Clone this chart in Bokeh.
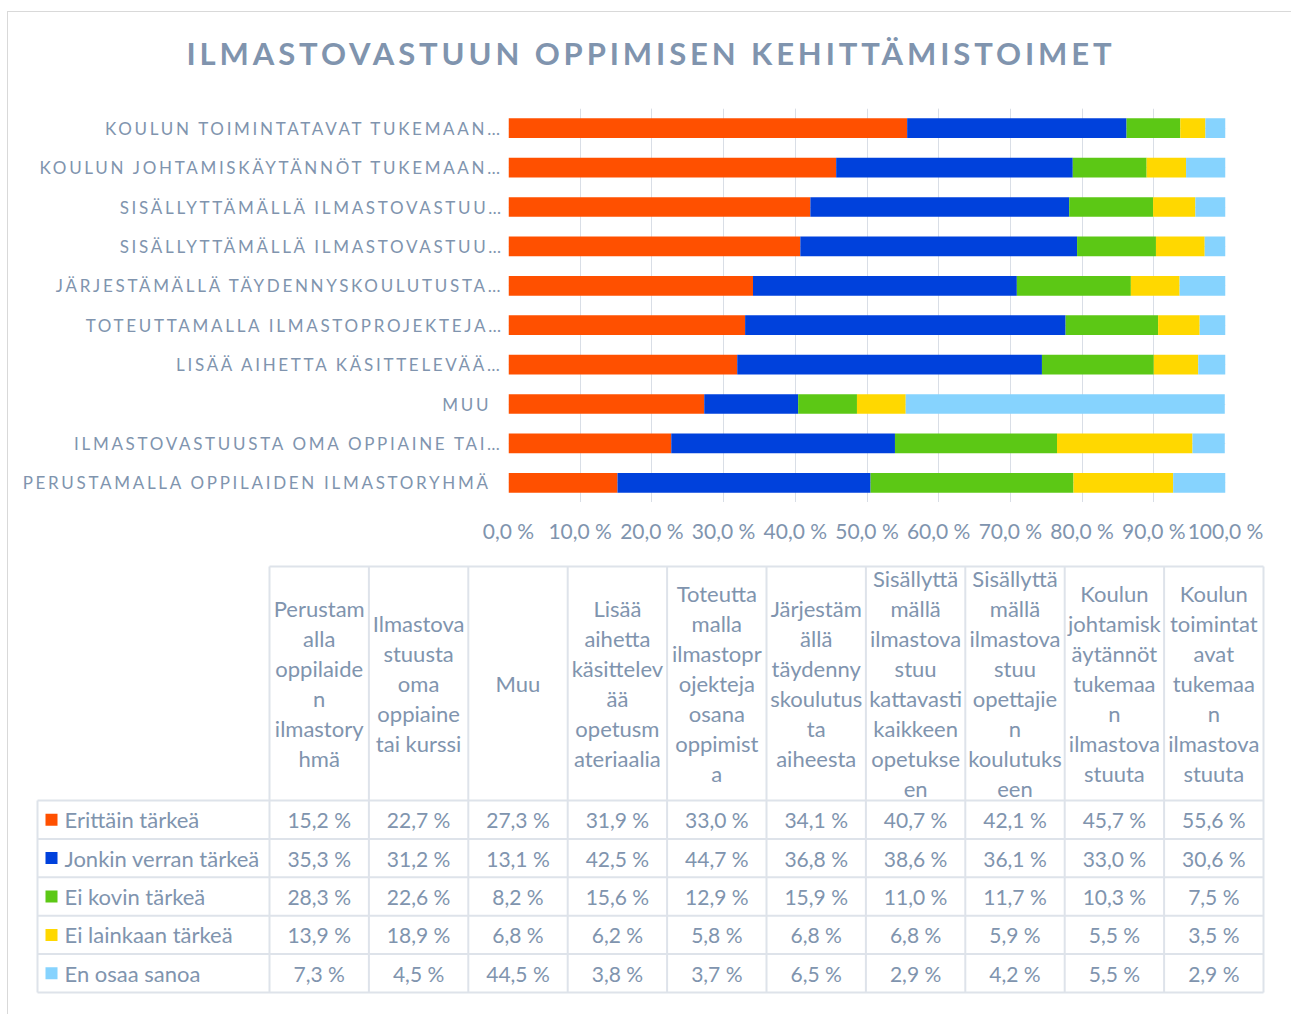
from bokeh.plotting import figure
from bokeh.models import (ColumnDataSource, FactorRange, Range1d, FixedTicker,
                          Grid, LinearAxis)
from bokeh.layouts import column, row
from bokeh.embed import file_html
from bokeh.resources import INLINE
from bokeh.core.properties import value

# ---------------- data ----------------
title_text = "ILMASTOVASTUUN OPPIMISEN KEHITTÄMISTOIMET"

categories = [
    "Perustamalla oppilaiden ilmastoryhmä",
    "Ilmastovastuusta oma oppiaine tai kurssi",
    "Muu",
    "Lisää aihetta käsittelevää opetusmateriaalia",
    "Toteuttamalla ilmastoprojekteja osana oppimista",
    "Järjestämällä täydennyskoulutusta aiheesta",
    "Sisällyttämällä ilmastovastuu kattavasti kaikkeen opetukseen",
    "Sisällyttämällä ilmastovastuu opettajien koulutukseen",
    "Koulun johtamiskäytännöt tukemaan ilmastovastuuta",
    "Koulun toimintatavat tukemaan ilmastovastuuta",
]

axis_labels = [
    "PERUSTAMALLA OPPILAIDEN ILMASTORYHMÄ",
    "ILMASTOVASTUUSTA OMA OPPIAINE TAI…",
    "MUU",
    "LISÄÄ AIHETTA KÄSITTELEVÄÄ…",
    "TOTEUTTAMALLA ILMASTOPROJEKTEJA…",
    "JÄRJESTÄMÄLLÄ TÄYDENNYSKOULUTUSTA…",
    "SISÄLLYTTÄMÄLLÄ ILMASTOVASTUU…",
    "SISÄLLYTTÄMÄLLÄ ILMASTOVASTUU…",
    "KOULUN JOHTAMISKÄYTÄNNÖT TUKEMAAN…",
    "KOULUN TOIMINTATAVAT TUKEMAAN…",
]

table_headers = [
    "Perustam\nalla\noppilaide\nn\nilmastory\nhmä",
    "Ilmastova\nstuusta\noma\noppiaine\ntai kurssi",
    "Muu",
    "Lisää\naihetta\nkäsittelev\nää\nopetusm\nateriaalia",
    "Toteutta\nmalla\nilmastopr\nojekteja\nosana\noppimist\na",
    "Järjestäm\nällä\ntäydenny\nskoulutus\nta\naiheesta",
    "Sisällyttä\nmällä\nilmastova\nstuu\nkattavasti\nkaikkeen\nopetukse\nen",
    "Sisällyttä\nmällä\nilmastova\nstuu\nopettajie\nn\nkoulutuks\neen",
    "Koulun\njohtamisk\näytännöt\ntukemaa\nn\nilmastova\nstuuta",
    "Koulun\ntoimintat\navat\ntukemaa\nn\nilmastova\nstuuta",
]

series_names = ["Erittäin tärkeä", "Jonkin verran tärkeä", "Ei kovin tärkeä",
                "Ei lainkaan tärkeä", "En osaa sanoa"]
series_colors = ["#FF5000", "#0041DC", "#5CC815", "#FFD800", "#86D3FE"]

erittain_tarkea = [15.2, 22.7, 27.3, 31.9, 33.0, 34.1, 40.7, 42.1, 45.7, 55.6]
jonkin_verran_tarkea = [35.3, 31.2, 13.1, 42.5, 44.7, 36.8, 38.6, 36.1, 33.0, 30.6]
ei_kovin_tarkea = [28.3, 22.6, 8.2, 15.6, 12.9, 15.9, 11.0, 11.7, 10.3, 7.5]
ei_lainkaan_tarkea = [13.9, 18.9, 6.8, 6.2, 5.8, 6.8, 6.8, 5.9, 5.5, 3.5]
en_osaa_sanoa = [7.3, 4.5, 44.5, 3.8, 3.7, 6.5, 2.9, 4.2, 5.5, 2.9]

series_values = [erittain_tarkea, jonkin_verran_tarkea, ei_kovin_tarkea,
                 ei_lainkaan_tarkea, en_osaa_sanoa]

x_ticks = [0, 10, 20, 30, 40, 50, 60, 70, 80, 90, 100]
x_tick_labels = ["0,0 %", "10,0 %", "20,0 %", "30,0 %", "40,0 %", "50,0 %",
                 "60,0 %", "70,0 %", "80,0 %", "90,0 %", "100,0 %"]

# ---------------- style / layout ----------------
TEXT = "#8094AE"
FONT = "Lato"
GRID = "#D9DEE6"
TABLE_LINE = "#DEE3EA"
BORDER = "#D9D9D9"
W = 1291
H0 = 108          # title strip
H1 = 394          # bar chart (frame = whole height)
H2 = 512          # axis labels + data table
AXIS_BAND = 54
FRAME_L = 508
FRAME_R = 1225
X_MIN, X_MAX = 0, 100
LABEL_LS = 2.7     # letter spacing of category labels (px)
LABEL_END = 488    # right end of category label text
ELLIPSIS_END = 501 # right end of a trailing ellipsis

# ---------------- title ----------------
tf = figure(width=W, height=H0, output_backend="svg", toolbar_location=None,
            min_border=0, min_border_top=90, x_axis_location=None, y_axis_location=None,
            styles={"letter-spacing": "3.9px"})
tf.frame_align = False
tf.outline_line_color = None
tf.border_fill_color = None
tf.background_fill_color = None
tf.grid.visible = False
tf.title.text = title_text
tf.title.text_font = FONT
tf.title.text_font_style = "bold"
tf.title.text_font_size = "31px"
tf.title.text_color = TEXT
tf.title.align = "left"
tf.title.offset = 186
tf.title.standoff = 38

# ---------------- bar chart ----------------
yr = FactorRange(factors=categories)
keys = [f"s{i}" for i in range(len(series_names))]
src = ColumnDataSource(dict(category=categories, **{k: v for k, v in zip(keys, series_values)}))

p = figure(width=W - FRAME_L, height=H1, x_range=Range1d(X_MIN, X_MAX), y_range=yr,
           output_backend="svg", toolbar_location=None,
           min_border_left=0, min_border_right=W - FRAME_R,
           min_border_top=0, min_border_bottom=0,
           x_axis_location=None, y_axis_location=None)
p.frame_align = False
p.border_fill_color = None
p.outline_line_color = None
p.add_layout(Grid(dimension=0, ticker=FixedTicker(ticks=x_ticks),
                  grid_line_color=GRID, grid_line_width=1))
p.hbar_stack(keys, y="category", height=0.5, fill_color=series_colors,
             line_color=None, source=src)

# category labels (letter-spaced), sharing the categorical scale of the bars
lf = figure(width=FRAME_L, height=H1, x_range=Range1d(0, FRAME_L), y_range=yr,
            output_backend="svg", toolbar_location=None, min_border=0,
            x_axis_location=None, y_axis_location=None,
            styles={"letter-spacing": f"{LABEL_LS}px"})
lf.frame_align = False
lf.outline_line_color = None
lf.border_fill_color = None
lf.background_fill_color = None
lf.grid.visible = False
label_x = [(ELLIPSIS_END if s.endswith("…") else LABEL_END) - (len(s) - 1) * LABEL_LS
           for s in axis_labels]
lf.text(x=label_x, y=categories, text=axis_labels, text_align="right",
        text_baseline="middle", text_font=value(FONT), text_font_size="17px",
        text_color=TEXT)

# ---------------- x axis + data table ----------------
t = figure(width=W, height=H2, x_range=Range1d(0, W), y_range=Range1d(H2 - AXIS_BAND, 0),
           output_backend="svg", toolbar_location=None, min_border=0,
           min_border_top=AXIS_BAND, x_axis_location=None, y_axis_location=None)
t.frame_align = False
t.outline_line_color = None
t.border_fill_color = None
t.background_fill_color = None
t.grid.visible = False

# percentage scale aligned with the bar chart frame
span = (X_MAX - X_MIN) * W / (FRAME_R - FRAME_L)
pct_start = X_MIN - FRAME_L / W * span
t.extra_x_ranges = {"pct": Range1d(pct_start, pct_start + span)}
xaxis = LinearAxis(x_range_name="pct", ticker=FixedTicker(ticks=x_ticks))
xaxis.major_label_overrides = {tk: lb for tk, lb in zip(x_ticks, x_tick_labels)}
xaxis.axis_line_color = None
xaxis.major_tick_line_color = None
xaxis.minor_tick_line_color = None
xaxis.major_tick_out = 0
xaxis.major_tick_in = 0
xaxis.major_label_standoff = 14
xaxis.major_label_text_font = FONT
xaxis.major_label_text_font_size = "21px"
xaxis.major_label_text_color = TEXT
t.add_layout(xaxis, "above")

n_cols = len(categories)
n_rows = len(series_names)
col_left = 269.0
col_w = 99.4
legend_left = 37.0
head_top = 10.0
head_bottom = 244.0
row_h = 38.4
tab_right = col_left + n_cols * col_w
tab_bottom = head_bottom + n_rows * row_h

x0, y0, x1, y1 = [], [], [], []
x0.append(col_left); x1.append(tab_right); y0.append(head_top); y1.append(head_top)
for i in range(n_rows + 1):
    yy = head_bottom + i * row_h
    x0.append(legend_left); x1.append(tab_right); y0.append(yy); y1.append(yy)
x0.append(legend_left); x1.append(legend_left); y0.append(head_bottom); y1.append(tab_bottom)
for j in range(n_cols + 1):
    xx = col_left + j * col_w
    x0.append(xx); x1.append(xx); y0.append(head_top); y1.append(tab_bottom)
t.segment(x0=x0, y0=y0, x1=x1, y1=y1, line_color=TABLE_LINE, line_width=2)

col_centers = [col_left + (j + 0.5) * col_w for j in range(n_cols)]
t.text(x=col_centers, y=[(head_top + head_bottom) / 2] * n_cols, text=table_headers,
       text_align="center", text_baseline="middle", text_font=value(FONT),
       text_font_size="22px", text_color=TEXT, text_line_height=1.114)

row_centers = [head_bottom + (i + 0.5) * row_h for i in range(n_rows)]
t.scatter(x=[legend_left + 14] * n_rows, y=row_centers, marker="square", size=12,
          fill_color=series_colors, line_color=None)
t.text(x=[legend_left + 27] * n_rows, y=row_centers, text=series_names,
       text_align="left", text_baseline="middle", text_font=value(FONT),
       text_font_size="22px", text_color=TEXT)

vx, vy, vt = [], [], []
for i, vals in enumerate(series_values):
    for j, v in enumerate(vals):
        vx.append(col_centers[j])
        vy.append(row_centers[i])
        vt.append(f"{v:.1f}".replace(".", ",") + " %")
t.text(x=vx, y=vy, text=vt, text_align="center", text_baseline="middle",
       text_font=value(FONT), text_font_size="21px", text_color=TEXT)

bg = (f"linear-gradient({BORDER},{BORDER}) 7px 11px / 1px 100% no-repeat, "
      f"linear-gradient({BORDER},{BORDER}) 7px 11px / 100% 1px no-repeat")
layout = column(tf, row(lf, p), t, styles={"background": bg})

open("out.html", "w").write(file_html(layout, INLINE))
